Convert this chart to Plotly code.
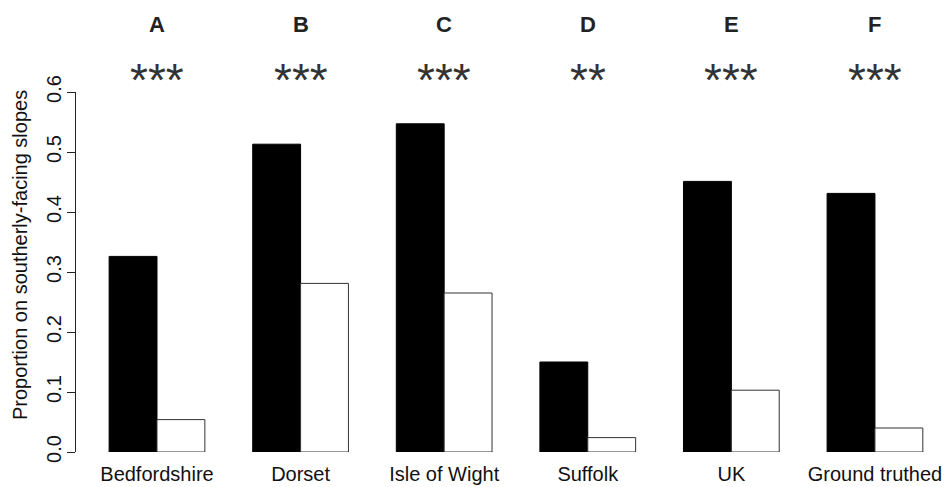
import plotly.graph_objects as go

categories = ["Bedfordshire", "Dorset", "Isle of Wight", "Suffolk", "UK", "Ground truthed"]
black_vals = [0.326, 0.513, 0.547, 0.150, 0.451, 0.431]
white_vals = [0.054, 0.281, 0.265, 0.024, 0.103, 0.040]
panel_letters = ["A", "B", "C", "D", "E", "F"]
signif = ["***", "***", "***", "**", "***", "***"]
y_ticks = [0.0, 0.1, 0.2, 0.3, 0.4, 0.5, 0.6]

FONT = "Liberation Sans, Arial, Helvetica, sans-serif"

fig = go.Figure()
fig.add_trace(go.Bar(x=categories, y=black_vals, marker=dict(color="black", line=dict(color="black", width=1)),
                     showlegend=False))
fig.add_trace(go.Bar(x=categories, y=white_vals, marker=dict(color="white", line=dict(color="#333333", width=1)),
                     showlegend=False))

for c, l, s in zip(categories, panel_letters, signif):
    fig.add_annotation(x=c, xref="x", y=(452 - 24) / 360, yref="paper", text="<b>%s</b>" % l,
                       showarrow=False, yanchor="middle", xanchor="center",
                       font=dict(family=FONT, size=22, color="#222222"))
    fig.add_annotation(x=c, xref="x", y=(452 - 80) / 360, yref="paper", text=s,
                       showarrow=False, yanchor="middle", xanchor="center",
                       font=dict(family=FONT, size=46, color="#333333"))

fig.add_annotation(x=0, xref="paper", xshift=-56, y=(452 - 255) / 360, yref="paper",
                   text="Proportion on southerly-facing slopes", textangle=-90, showarrow=False,
                   xanchor="center", yanchor="middle", font=dict(family=FONT, size=20, color="#111111"))

fig.update_layout(
    width=947, height=487,
    margin=dict(l=76, r=7, t=92, b=35, autoexpand=False),
    barmode="group", bargap=1/3, bargroupgap=0,
    plot_bgcolor="white", paper_bgcolor="white",
    font=dict(family=FONT, size=20, color="#111111"),
    xaxis=dict(type="category", range=[-0.564, 5.453], showgrid=False, zeroline=False, showline=False,
               ticks="outside", ticklen=4, tickcolor="rgba(0,0,0,0)", tickfont=dict(size=20)),
    yaxis=dict(range=[0, 0.6], tickvals=y_ticks, tickformat=".1f", showgrid=False, zeroline=False,
               showline=True, linecolor="#222222", linewidth=1, ticks="outside", ticklen=8,
               tickcolor="#222222", tickangle=-90, ticklabelstandoff=-2, tickfont=dict(size=20)),
)

fig.write_html("out.html")
